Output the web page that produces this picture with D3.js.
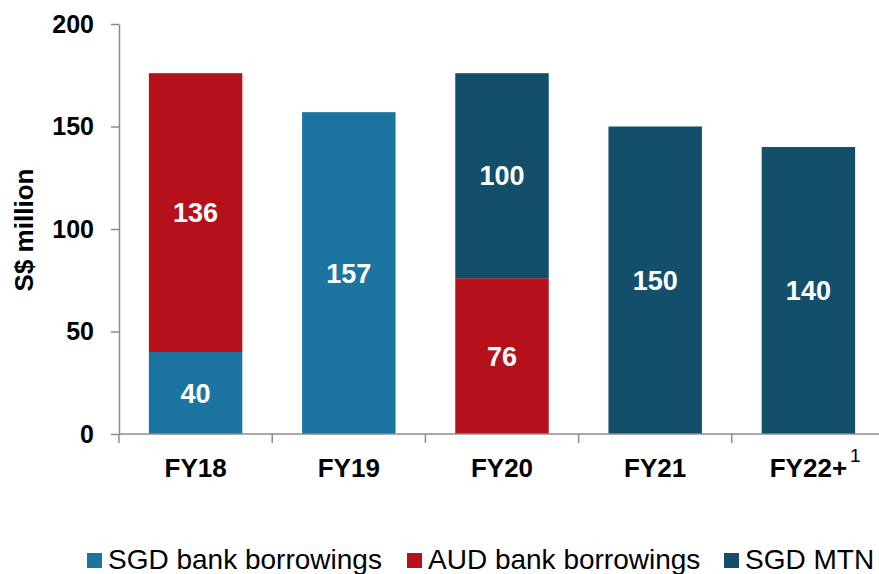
<!DOCTYPE html>
<html>
<head>
<meta charset="utf-8">
<script src="https://cdn.jsdelivr.net/npm/d3@7"></script>
<style>
  html, body { margin: 0; padding: 0; background: #fff; }
  svg { display: block; font-family: Arial, "Liberation Sans", sans-serif; }
</style>
</head>
<body>
<svg id="chart" width="879" height="574"></svg>
<script>
const categories = ["FY18", "FY19", "FY20", "FY21", "FY22+"];
const seriesNames = ["SGD bank borrowings", "AUD bank borrowings", "SGD MTN"];
const sgdBank = [40, 157, 0, 0, 0];
const audBank = [136, 0, 76, 0, 0];
const sgdMtn  = [0, 0, 100, 150, 140];
const yTicks = [0, 50, 100, 150, 200];
const colors = ["#1B75A0", "#B5111A", "#134F6B"];

(function () {
const svg = d3.select("#chart");
const mLeft = 119, mRight = 885, mTop = 24, mBottom = 434;

const x = d3.scaleBand().domain(categories).range([mLeft, mRight]).paddingInner(0.39).paddingOuter(0.195);
const y = d3.scaleLinear().domain([0, 200]).range([mBottom, mTop]);

const rows = categories.map((c, i) => ({cat: c, s0: sgdBank[i], s1: audBank[i], s2: sgdMtn[i]}));
const layers = d3.stack().keys(["s0", "s1", "s2"])(rows);

const g = svg.append("g");
layers.forEach((layer, li) => {
  layer.forEach((d, i) => {
    const v = d[1] - d[0];
    if (v <= 0) return;
    g.append("rect")
      .attr("x", x(categories[i]))
      .attr("y", y(d[1]))
      .attr("width", x.bandwidth())
      .attr("height", y(d[0]) - y(d[1]))
      .attr("fill", colors[li]);
    g.append("text")
      .attr("x", x(categories[i]) + x.bandwidth() / 2)
      .attr("y", (y(d[0]) + y(d[1])) / 2)
      .attr("dy", "0.36em")
      .attr("text-anchor", "middle")
      .attr("fill", "#fff")
      .attr("font-weight", "bold")
      .attr("font-size", "27px")
      .text(v);
  });
});

const axisColor = "#8C8C8C";
const yAxis = d3.axisLeft(y).tickValues(yTicks).tickSize(8).tickPadding(17).tickSizeOuter(0);
const yg = svg.append("g").attr("transform", `translate(${mLeft},0)`).call(yAxis);
yg.select(".domain").attr("stroke", axisColor).attr("stroke-width", 1.5);
yg.selectAll(".tick line").attr("stroke", axisColor).attr("stroke-width", 1.5);
yg.selectAll(".tick text").attr("font-size", "25px").attr("font-weight", "bold").attr("fill", "#000")
  .attr("font-family", "Arial, 'Liberation Sans', sans-serif");

const xg = svg.append("g").attr("transform", `translate(0,${mBottom})`);
xg.append("line").attr("x1", mLeft).attr("x2", mRight).attr("y1", 0).attr("y2", 0)
  .attr("stroke", axisColor).attr("stroke-width", 1.5);
const bounds = categories.map(c => x(c) - x.step() * x.paddingInner() / 2);
bounds.push(mRight);
bounds.forEach(b => {
  xg.append("line").attr("x1", b).attr("x2", b).attr("y1", 0).attr("y2", 9)
    .attr("stroke", axisColor).attr("stroke-width", 1.5);
});
categories.forEach((c, i) => {
  const cx = x(c) + x.bandwidth() / 2;
  const t = xg.append("text").attr("x", cx).attr("y", 43)
    .attr("text-anchor", "middle").attr("font-size", "26px").attr("font-weight", "bold")
    .attr("fill", "#000").text(c);
  if (i === categories.length - 1) {
    const bb = t.node().getBBox();
    xg.append("text").attr("x", bb.x + bb.width + 3).attr("y", 28)
      .attr("font-size", "19px").attr("fill", "#000").text("1");
  }
});

svg.append("text")
  .attr("transform", "translate(33,230) rotate(-90)")
  .attr("text-anchor", "middle")
  .attr("font-size", "26px").attr("font-weight", "bold").attr("fill", "#000")
  .text("S$ million");

const legendX = [87, 407, 724];
seriesNames.forEach((n, i) => {
  svg.append("rect").attr("x", legendX[i]).attr("y", 553).attr("width", 15).attr("height", 15).attr("fill", colors[i]);
  svg.append("text").attr("x", legendX[i] + 21).attr("y", 569)
    .attr("font-size", "28px").attr("fill", "#000").text(n);
});
})();
</script>
</body>
</html>
